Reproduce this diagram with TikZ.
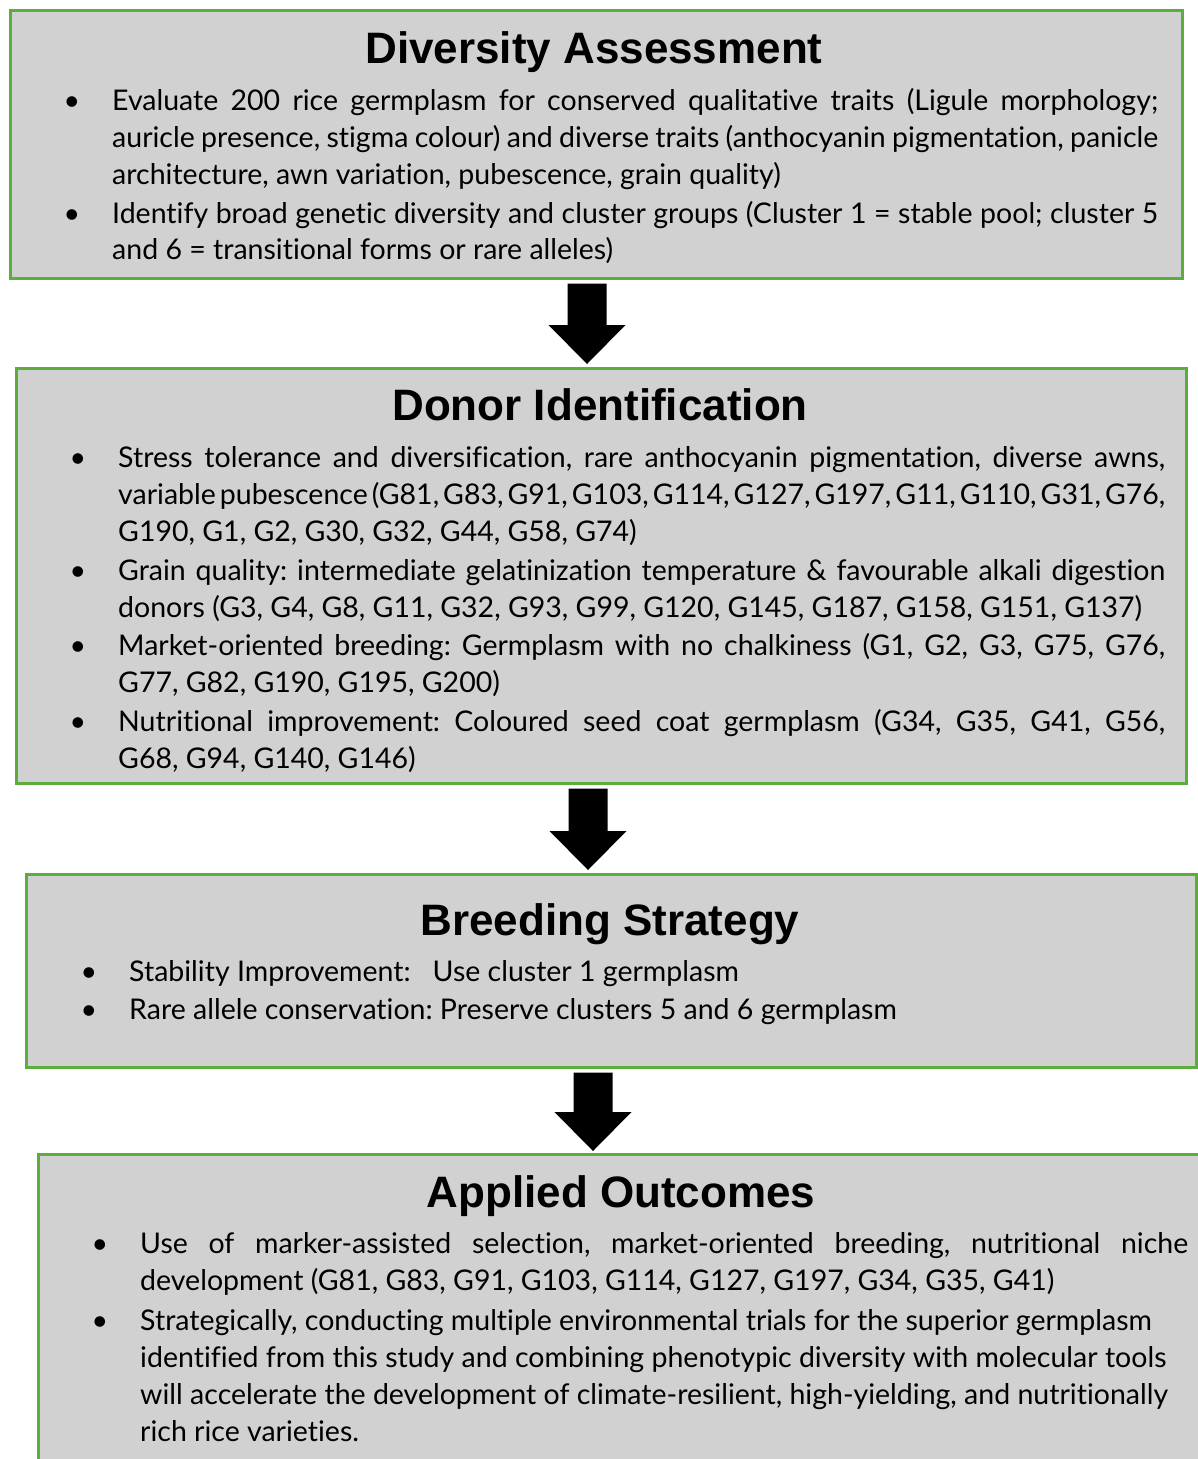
\documentclass[tikz,border=0pt]{standalone}
\usepackage{fontspec}
\setmainfont{Lato}[Ligatures=NoCommon]
\newfontfamily\ttlfamily{Liberation Sans}
\usetikzlibrary{calc}
\definecolor{boxgray}{HTML}{D1D1D1}
\definecolor{boxgreen}{HTML}{5BAE3C}
\frenchspacing
\newcommand\bodyfnt{\fontsize{28.5pt}{37pt}\selectfont\frenchspacing}
\newcommand\ttlfnt{\ttlfamily\bfseries\fontsize{44pt}{50pt}\selectfont}
\newlength\jw
\newcommand\jl[1]{\hbox to \jw{\spaceskip=0.12em plus 1fil\relax #1}}
\begin{document}
\begin{tikzpicture}[x=1pt,y=1pt,
  box/.style={draw=boxgreen, line width=2.5pt, fill=boxgray, inner sep=0pt, anchor=north west},
  ttl/.style={font=\ttlfnt, anchor=base, inner sep=0pt},
  ln/.style={font=\bodyfnt, anchor=base west, inner sep=0pt},
  bul/.style={font=\bodyfnt, anchor=base, inner sep=0pt},
  blockarrow/.style={fill=black}]
\useasboundingbox (0,0) rectangle (1198,-1459);
\begin{scope}
\clip (0,0) rectangle (1198,-1459);
% boxes
\node[box, minimum width=1172pt, minimum height=268pt] (b1) at (9,-9) {};
\node[box, minimum width=1170pt, minimum height=415pt] (b2) at (15,-367) {};
\node[box, minimum width=1170pt, minimum height=193pt] (b3) at (25,-873) {};
\node[box, minimum width=1170pt, minimum height=340pt] (b4) at (37,-1153) {};
\end{scope}
% arrows
\coordinate (ax1) at (587,0);
\coordinate (ax2) at (588,0);
\coordinate (ax3) at (593,0);
\coordinate (s1) at ($(b1.south -| ax1)+(0,-4)$);
\coordinate (t1) at ($(b2.north -| ax1)+(0,3)$);
\coordinate (s2) at ($(b2.south -| ax2)+(0,-4)$);
\coordinate (t2) at ($(b3.north -| ax2)+(0,3)$);
\coordinate (s3) at ($(b3.south -| ax3)+(0,-4)$);
\coordinate (t3) at ($(b4.north -| ax3)+(0,2)$);
\foreach \s/\t in {s1/t1,s2/t2,s3/t3}{
  \fill[blockarrow] ($(\s)+(-19.5,0)$) -- ($(\s)+(19.5,0)$) -- ($(\t)+(19.5,39)$) -- ($(\t)+(38.5,39)$)
    -- (\t) -- ($(\t)+(-38.5,39)$) -- ($(\t)+(-19.5,39)$) -- cycle;
}
% box 1
\node[ttl] (b1t) at (594,-63) {Diversity Assessment};
\setlength\jw{1046pt}
\node[bul] (b1b1) at (72,-110) {•};
\node[ln] (b1l1) at (112,-110) {\jl{Evaluate 200 rice germplasm for conserved qualitative traits (Ligule morphology;}};
\node[ln] (b1l2) at (112,-147) {\jl{auricle presence, stigma colour) and diverse traits (anthocyanin pigmentation, panicle}};
\node[ln] (b1l3) at (112,-184) {architecture, awn variation, pubescence, grain quality)};
\node[bul] (b1b2) at (72,-223) {•};
\node[ln] (b1l4) at (112,-223) {\jl{Identify broad genetic diversity and cluster groups (Cluster 1 = stable pool; cluster 5}};
\node[ln] (b1l5) at (112,-259) {and 6 = transitional forms or rare alleles)};
% box 2
\node[ttl] (b2t) at (600,-420) {Donor Identification};
\setlength\jw{1047pt}
\node[bul] (b2b1) at (78,-467) {•};
\node[ln] (b2l1) at (118,-467) {\jl{Stress tolerance and diversification, rare anthocyanin pigmentation, diverse awns,}};
\node[ln] (b2l2) at (118,-504) {\jl{variable pubescence (G81, G83, G91, G103, G114, G127, G197, G11, G110, G31, G76,}};
\node[ln] (b2l3) at (118,-541) {G190, G1, G2, G30, G32, G44, G58, G74)};
\node[bul] (b2b2) at (78,-580) {•};
\node[ln] (b2l4) at (118,-580) {\jl{Grain quality: intermediate gelatinization temperature \& favourable alkali digestion}};
\node[ln] (b2l5) at (118,-617) {donors (G3, G4, G8, G11, G32, G93, G99, G120, G145, G187, G158, G151, G137)};
\node[bul] (b2b3) at (78,-655) {•};
\node[ln] (b2l6) at (118,-655) {\jl{Market-oriented breeding: Germplasm with no chalkiness (G1, G2, G3, G75, G76,}};
\node[ln] (b2l7) at (118,-692) {G77, G82, G190, G195, G200)};
\node[bul] (b2b4) at (78,-731) {•};
\node[ln] (b2l8) at (118,-731) {\jl{Nutritional improvement: Coloured seed coat germplasm (G34, G35, G41, G56,}};
\node[ln] (b2l9) at (118,-768) {G68, G94, G140, G146)};
% box 3
\node[ttl] (b3t) at (610,-935) {Breeding Strategy};
\node[bul] (b3b1) at (89,-981) {•};
\node[ln] (b3l1) at (129,-981) {Stability Improvement:\hspace{22pt}Use cluster 1 germplasm};
\node[bul] (b3b2) at (89,-1019) {•};
\node[ln] (b3l2) at (129,-1019) {Rare allele conservation: Preserve clusters 5 and 6 germplasm};
% box 4
\node[ttl] (b4t) at (621,-1207) {Applied Outcomes};
\setlength\jw{1048pt}
\node[bul] (b4b1) at (100,-1253) {•};
\node[ln] (b4l1) at (140,-1253) {\jl{Use of marker-assisted selection, market-oriented breeding, nutritional niche}};
\node[ln] (b4l2) at (140,-1290) {development (G81, G83, G91, G103, G114, G127, G197, G34, G35, G41)};
\node[bul] (b4b2) at (100,-1330) {•};
\node[ln] (b4l3) at (140,-1330) {Strategically, conducting multiple environmental trials for the superior germplasm};
\node[ln] (b4l4) at (140,-1367) {identified from this study and combining phenotypic diversity with molecular tools};
\node[ln] (b4l5) at (140,-1404) {will accelerate the development of climate-resilient, high-yielding, and nutritionally};
\node[ln] (b4l6) at (140,-1441) {rich rice varieties.};
\end{tikzpicture}
\end{document}
